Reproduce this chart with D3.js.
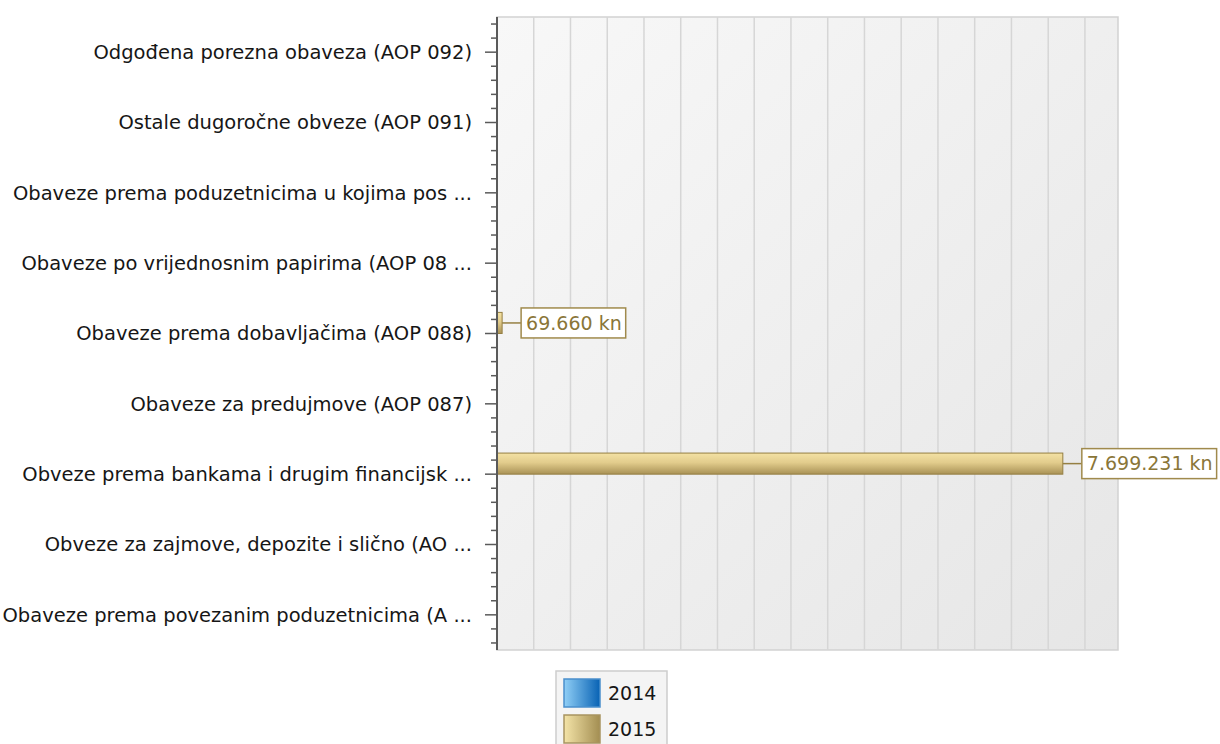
<!DOCTYPE html>
<html lang="hr">
<head>
  <meta charset="UTF-8">
  <title>Obveze</title>
  <script src="https://d3js.org/d3.v7.min.js"></script>
  <style>
    body { margin: 0; background: #fff; }
    svg { display: block; font-family: "DejaVu Sans", sans-serif; }
    .cat { font-size: 19.5px; fill: #161616; }
    .lbl { font-size: 19px; fill: #8a7638; }
    .leg { font-size: 19px; fill: #161616; }
  </style>
</head>
<body>
<svg width="1220" height="744"></svg>
<script>
// categories, top to bottom as shown
const categories = [
  "Odgođena porezna obaveza (AOP 092)",
  "Ostale dugoročne obveze (AOP 091)",
  "Obaveze prema poduzetnicima u kojima pos ...",
  "Obaveze po vrijednosnim papirima (AOP 08 ...",
  "Obaveze prema dobavljačima (AOP 088)",
  "Obaveze za predujmove (AOP 087)",
  "Obveze prema bankama i drugim financijsk ...",
  "Obveze za zajmove, depozite i slično (AO ...",
  "Obaveze prema povezanim poduzetnicima (A ..."
];
const seriesNames = ["2014", "2015"];
const values2014 = [0, 0, 0, 0, 0, 0, 0, 0, 0];
const values2015 = [0, 0, 0, 0, 69660, 0, 7699231, 0, 0];
const xMax = 8450000;
const gridStep = 500000;

const hr = d3.formatLocale({ decimal: ",", thousands: ".", grouping: [3], currency: ["", " kn"] });
const fmt = v => hr.format(",d")(v) + " kn";

const svg = d3.select("svg");
const pl = 497, pr = 1118, pt = 17, pb = 650;

const defs = svg.append("defs");
const bg = defs.append("linearGradient").attr("id", "bg")
  .attr("x1", 0).attr("y1", 0).attr("x2", 1).attr("y2", 1);
bg.append("stop").attr("offset", 0).attr("stop-color", "#f8f8f8");
bg.append("stop").attr("offset", 1).attr("stop-color", "#e6e6e6");

const barG = defs.append("linearGradient").attr("id", "bar15")
  .attr("x1", 0).attr("y1", 0).attr("x2", 0).attr("y2", 1);
barG.append("stop").attr("offset", 0).attr("stop-color", "#f4e2a4");
barG.append("stop").attr("offset", 0.45).attr("stop-color", "#e2cc8c");
barG.append("stop").attr("offset", 1).attr("stop-color", "#a99256");

const barB = defs.append("linearGradient").attr("id", "bar14")
  .attr("x1", 0).attr("y1", 0).attr("x2", 0).attr("y2", 1);
barB.append("stop").attr("offset", 0).attr("stop-color", "#8ccbf4");
barB.append("stop").attr("offset", 1).attr("stop-color", "#0a66b6");

const sw15 = defs.append("linearGradient").attr("id", "sw15");
sw15.append("stop").attr("offset", 0).attr("stop-color", "#f4e4a8");
sw15.append("stop").attr("offset", 1).attr("stop-color", "#a38e52");
const sw14 = defs.append("linearGradient").attr("id", "sw14");
sw14.append("stop").attr("offset", 0).attr("stop-color", "#90cff6");
sw14.append("stop").attr("offset", 1).attr("stop-color", "#0862b4");

const x = d3.scaleLinear().domain([0, xMax]).range([pl, pr]);
const y = d3.scaleBand().domain(categories).range([pt, pb]).padding(0);
const bw = y.bandwidth();
const ySub = d3.scaleBand().domain(["2015", "2014"]).range([0.2 * bw, 0.8 * bw]);

// plot background
svg.append("rect")
  .attr("x", pl).attr("y", pt)
  .attr("width", pr - pl).attr("height", pb - pt)
  .attr("fill", "url(#bg)").attr("stroke", "#d2d2d2").attr("stroke-width", 1.5);

// vertical grid
svg.append("g").selectAll("line")
  .data(d3.range(gridStep, xMax, gridStep))
  .join("line")
  .attr("x1", d => x(d)).attr("x2", d => x(d))
  .attr("y1", pt).attr("y2", pb)
  .attr("stroke", "#d6d6d6").attr("stroke-width", 1.5);

// bars
const rows = categories.map((c, i) => ({ cat: c, v14: values2014[i], v15: values2015[i] }));
const bars = [];
rows.forEach(r => {
  bars.push({ cat: r.cat, s: "2014", v: r.v14 });
  bars.push({ cat: r.cat, s: "2015", v: r.v15 });
});
const shown = bars.filter(d => d.v > 0);

svg.append("g").selectAll("rect")
  .data(shown)
  .join("rect")
  .attr("x", x(0))
  .attr("y", d => y(d.cat) + ySub(d.s))
  .attr("width", d => x(d.v) - x(0))
  .attr("height", ySub.bandwidth())
  .attr("fill", d => d.s === "2015" ? "url(#bar15)" : "url(#bar14)")
  .attr("stroke", d => d.s === "2015" ? "#957f42" : "#0a5a9e")
  .attr("stroke-width", 1);

// value labels
const lab = svg.append("g").selectAll("g")
  .data(shown)
  .join("g")
  .attr("transform", d => `translate(${x(d.v)},${y(d.cat) + ySub(d.s) + ySub.bandwidth() / 2})`);
lab.append("line")
  .attr("x1", 0).attr("x2", 19).attr("y1", 0).attr("y2", 0)
  .attr("stroke", "#957f42").attr("stroke-width", 1.5);
lab.each(function(d) {
  const g = d3.select(this);
  const t = g.append("text").attr("class", "lbl")
    .attr("x", 24).attr("y", 0).attr("dy", "0.35em").text(fmt(d.v));
  const w = t.node().getComputedTextLength();
  g.insert("rect", "text")
    .attr("x", 19).attr("y", -15).attr("width", w + 9).attr("height", 30)
    .attr("fill", "#fff").attr("stroke", "#a08a4c").attr("stroke-width", 1.5);
});

// y axis line and ticks
const ax = svg.append("g");
ax.append("line")
  .attr("x1", pl).attr("x2", pl).attr("y1", pt).attr("y2", pb)
  .attr("stroke", "#5a5a5a").attr("stroke-width", 2);
const minor = [];
categories.forEach(c => [0.1, 0.3, 0.7, 0.9].forEach(f => minor.push(y(c) + f * bw)));
ax.selectAll("line.minor")
  .data(minor)
  .join("line").attr("class", "minor")
  .attr("x1", pl - 6).attr("x2", pl)
  .attr("y1", d => d).attr("y2", d => d)
  .attr("stroke", "#5a5a5a").attr("stroke-width", 1.5);
ax.selectAll("line.major")
  .data(categories)
  .join("line").attr("class", "major")
  .attr("x1", pl - 12).attr("x2", pl)
  .attr("y1", d => y(d) + bw / 2).attr("y2", d => y(d) + bw / 2)
  .attr("stroke", "#5a5a5a").attr("stroke-width", 1.5);
ax.selectAll("text")
  .data(categories)
  .join("text").attr("class", "cat")
  .attr("x", pl - 25)
  .attr("y", d => y(d) + bw / 2)
  .attr("dy", "0.35em")
  .attr("text-anchor", "end")
  .text(d => d);

// legend
const lg = svg.append("g").attr("transform", "translate(556,671)");
lg.append("rect").attr("width", 111).attr("height", 90)
  .attr("fill", "#f4f4f4").attr("stroke", "#cdcdcd").attr("stroke-width", 1.5);
const li = lg.selectAll("g").data(seriesNames).join("g")
  .attr("transform", (d, i) => `translate(8,${8 + i * 36})`);
li.append("rect").attr("width", 36).attr("height", 28)
  .attr("fill", d => d === "2014" ? "url(#sw14)" : "url(#sw15)")
  .attr("stroke", d => d === "2014" ? "#4a8fcc" : "#a89460").attr("stroke-width", 1.5);
li.append("text").attr("class", "leg")
  .attr("x", 44).attr("y", 14).attr("dy", "0.35em").text(d => d);
</script>
</body>
</html>
